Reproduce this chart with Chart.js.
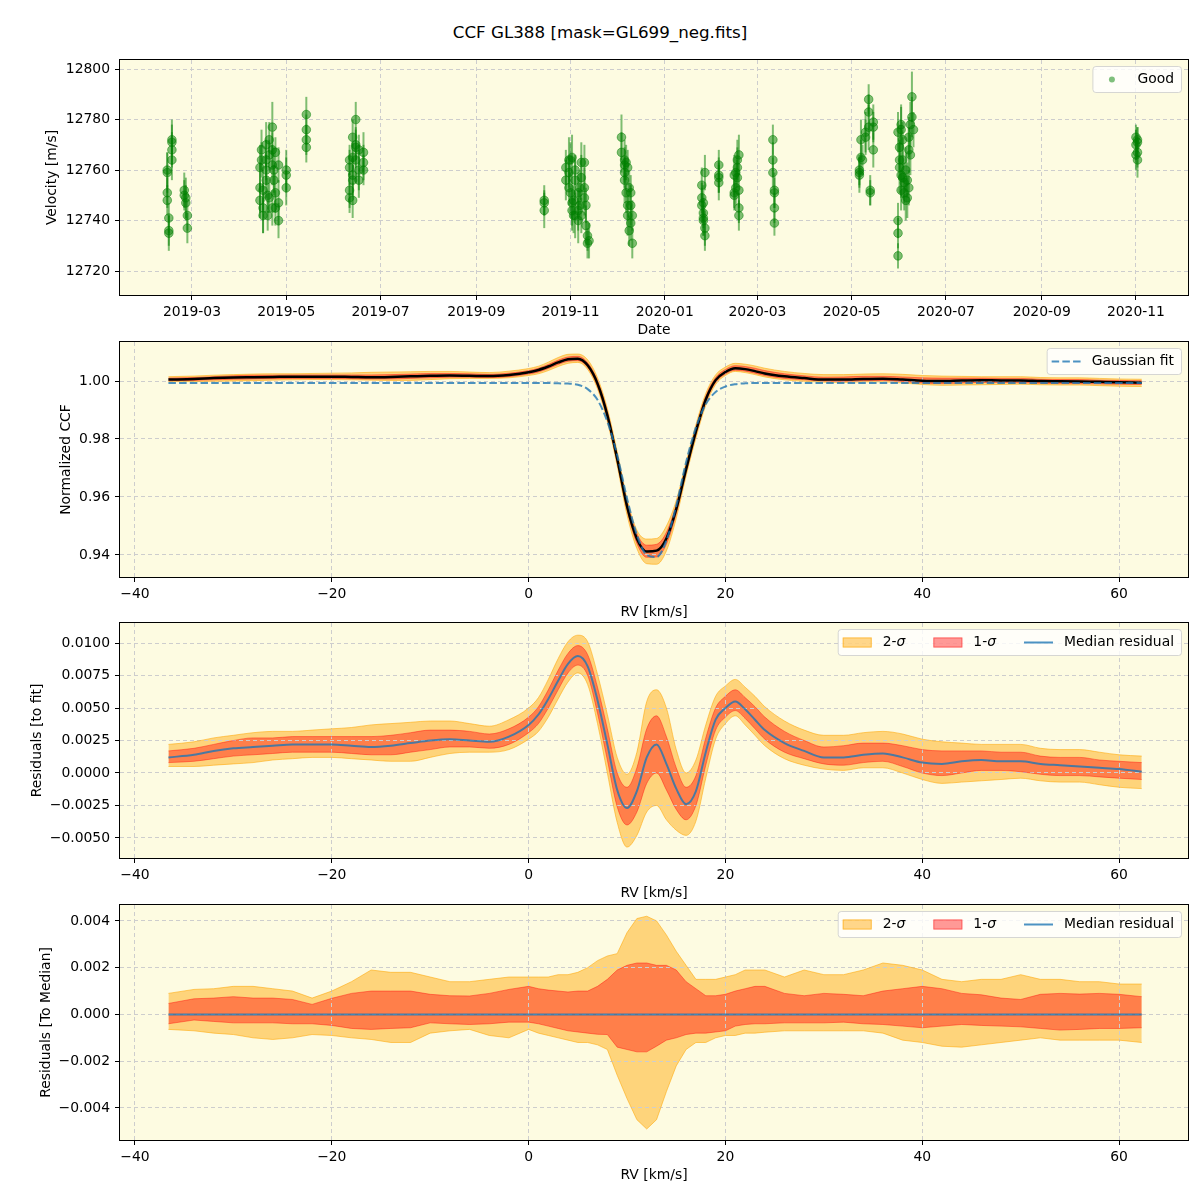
<!DOCTYPE html>
<html>
<head>
<meta charset="utf-8">
<title>CCF GL388</title>
<script src="https://cdn.jsdelivr.net/npm/chart.js@4.4.1/dist/chart.umd.min.js"></script>
<style>
  body { margin: 0; background: #fff; }
  #page { position: relative; width: 1200px; height: 1200px; background: #fff; overflow: hidden; font-family: "DejaVu Sans", sans-serif; }
  #page canvas { position: absolute; left: 0; }
  .plotbg { position: absolute; left: 120px; width: 1068px; height: 235px; background: #fdfbe1; }
  #suptitle { position: absolute; left: 0; width: 1200px; top: 22px; line-height: 20px; text-align: center; font-size: 16.7px; color: #000; }
</style>
</head>
<body>
<div id="page">
  <div id="suptitle">CCF GL388 [mask=GL699_neg.fits]</div>
  <div class="plotbg" style="top:60px"></div>
  <div class="plotbg" style="top:342px"></div>
  <div class="plotbg" style="top:623px"></div>
  <div class="plotbg" style="top:905px"></div>
  <canvas id="c1" width="1200" height="295" style="top:45px"></canvas>
  <canvas id="c2" width="1200" height="295" style="top:327px"></canvas>
  <canvas id="c3" width="1200" height="295" style="top:608px"></canvas>
  <canvas id="c4" width="1200" height="295" style="top:890px"></canvas>
</div>
<script>
// --- Data: radial velocity time series (top panel) ---
const obsNights = [
    '2019-02-13', '2019-02-14', '2019-02-16', '2019-02-24', '2019-02-25', '2019-02-26',
    '2019-04-14', '2019-04-15', '2019-04-16', '2019-04-18', '2019-04-19', '2019-04-20', '2019-04-22', '2019-04-23', '2019-04-24', '2019-04-26', '2019-05-01',
    '2019-05-14',
    '2019-06-11', '2019-06-13', '2019-06-15', '2019-06-17', '2019-06-20',
    '2019-10-15',
    '2019-10-29', '2019-10-31', '2019-11-01', '2019-11-02', '2019-11-03', '2019-11-04', '2019-11-06', '2019-11-07', '2019-11-08', '2019-11-10', '2019-11-11', '2019-11-12', '2019-11-13',
    '2019-12-04', '2019-12-06', '2019-12-07', '2019-12-08', '2019-12-09', '2019-12-10', '2019-12-11',
    '2020-01-25', '2020-01-26', '2020-01-27',
    '2020-02-05',
    '2020-02-15', '2020-02-16', '2020-02-17', '2020-02-18',
    '2020-03-11', '2020-03-12',
    '2020-05-06', '2020-05-07', '2020-05-08', '2020-05-10', '2020-05-12', '2020-05-13', '2020-05-15',
    '2020-05-31', '2020-06-01', '2020-06-02', '2020-06-03', '2020-06-04', '2020-06-05', '2020-06-06', '2020-06-07', '2020-06-08', '2020-06-09', '2020-06-10',
    '2020-11-01', '2020-11-02'
];
const obsVel = [
    [12760, 12751, 12748, 12759], [12741, 12736, 12735], [12764, 12768, 12771, 12772],
    [12752, 12750], [12749, 12747], [12742, 12737],
    [12761, 12753, 12748], [12768, 12764], [12745, 12742, 12752], [12770, 12764, 12760, 12756], [12750, 12742], [12772, 12766, 12749], [12777, 12762, 12768, 12745], [12760, 12756], [12767, 12745, 12751], [12740, 12747, 12762], [12760, 12758, 12753],
    [12782, 12776, 12772, 12769],
    [12764, 12761, 12752, 12749], [12773, 12765, 12758, 12756, 12748], [12780, 12769, 12764, 12770], [12768, 12760, 12756], [12767, 12763, 12760],
    [12748, 12747, 12744],
    [12761, 12756], [12764, 12759, 12753], [12764, 12751], [12747, 12744, 12765], [12748, 12742], [12756, 12760, 12742], [12744, 12751, 12740], [12753, 12746], [12763, 12742, 12757], [12763, 12753, 12749], [12746, 12738], [12734, 12731], [12732],
    [12773, 12767], [12762, 12764, 12759, 12756], [12751, 12763], [12746, 12761, 12742], [12753, 12736], [12746, 12751, 12739], [12742, 12731],
    [12754, 12749, 12746], [12743, 12741, 12740, 12747], [12737, 12734, 12759],
    [12762, 12758, 12755, 12757],
    [12751, 12750, 12758], [12753, 12759], [12764, 12757, 12761], [12766, 12752, 12745, 12742],
    [12772, 12764, 12759], [12752, 12751, 12745, 12739],
    [12760, 12758, 12759], [12765, 12772], [12764], [12775, 12773], [12783, 12788, 12777], [12752, 12751], [12779, 12768, 12777],
    [12726, 12735, 12740, 12775], [12769, 12764, 12761], [12758, 12752, 12776, 12778], [12757, 12764, 12772], [12755, 12751], [12748, 12760], [12756, 12749], [12768, 12773, 12753], [12778, 12766], [12789, 12781], [12776],
    [12773, 12770, 12766], [12772, 12767, 12764, 12771]
];
const obsErr = [
    [7, 6, 6, 8], [6, 6, 7], [8, 7, 9, 6],
    [7, 6], [8, 7], [6, 6],
    [9, 10, 7], [8, 7], [10, 7, 8], [9, 8, 6, 7], [7, 6], [7, 6, 6], [10, 8, 7, 7], [9, 6], [6, 7, 8], [7, 9, 7], [8, 7, 7],
    [7, 6, 6, 6],
    [6, 7, 7, 6], [7, 6, 8, 6, 7], [7, 8, 9, 6], [6, 8, 7], [8, 7, 6],
    [6, 5, 7],
    [7, 8], [9, 6, 7], [7, 8], [9, 8, 9], [6, 7], [8, 6, 9], [8, 8, 9], [7, 6], [8, 7, 9], [7, 8, 7], [7, 8], [6, 6], [7],
    [9, 8], [7, 8, 6, 9], [8, 7], [6, 7, 8], [7, 6], [8, 7, 7], [6, 6],
    [7, 6, 7], [6, 7, 6, 7], [7, 6, 7],
    [6, 7, 7, 6],
    [6, 6, 8], [7, 6], [8, 7, 8], [8, 7, 6, 6],
    [6, 7, 6], [7, 6, 6, 5],
    [6, 7, 6], [7, 8], [6], [8, 7], [7, 6, 9], [6, 5], [7, 7, 6],
    [5, 6, 7, 8], [9, 8, 10], [9, 8, 9, 8], [8, 9, 7], [8, 7], [8, 9], [7, 8], [9, 8, 7], [9, 8], [10, 8], [7],
    [5, 6, 6], [5, 6, 7, 6]
];
const dateTicks = ['2019-03', '2019-05', '2019-07', '2019-09', '2019-11', '2020-01', '2020-03', '2020-05', '2020-07', '2020-09', '2020-11'];
const velTicks = [12720, 12740, 12760, 12780, 12800];

// --- Data: CCF profile and residuals (sampled in RV, km/s) ---
const rvGrid = [
    -36.6, -34, -32, -30, -28, -26, -24, -22, -20, -18, -16, -14, -12, -10, -8, -6, -4, -2,
    0, 1, 2, 3, 4, 5, 6, 7, 8, 9, 10, 11, 12, 13, 14, 15, 16, 17, 18, 19, 20, 21, 22, 23, 24,
    26, 28, 30, 32, 34, 36, 38, 40, 42, 44, 46, 48, 50, 52, 54, 56, 58, 60, 62.3
];
const ccfMedian = [
    1.0005, 1.0007, 1.0010, 1.0012, 1.0013, 1.0014, 1.0015, 1.0015, 1.0015, 1.0014, 1.0013, 1.0014, 1.0016, 1.0018, 1.0019, 1.0018, 1.0017, 1.0021,
    1.0030, 1.0038, 1.0050, 1.0064, 1.0075, 1.0077, 1.0054, 0.9991, 0.9882, 0.9732, 0.9568, 0.9456, 0.9412, 0.9415, 0.9457, 0.9558, 0.9696, 0.9826, 0.9936, 1.0003, 1.0031, 1.0044, 1.0041, 1.0034, 1.0026,
    1.0016, 1.0010, 1.0005, 1.0005, 1.0007, 1.0008, 1.0005, 1.0001, 1.0000, 1.0002, 1.0003, 1.0002, 1.0002, 1.0000, 0.9999, 0.9998, 0.9997, 0.9996, 0.9994
];
const ccfFit = [
    0.9993, 0.9993, 0.9993, 0.9993, 0.9993, 0.9993, 0.9993, 0.9993, 0.9993, 0.9993, 0.9993, 0.9993, 0.9993, 0.9993, 0.9993, 0.9993, 0.9993, 0.9993,
    0.9993, 0.9993, 0.9993, 0.9992, 0.9991, 0.9987, 0.9972, 0.9935, 0.9860, 0.9745, 0.9595, 0.9470, 0.9400, 0.9393, 0.9450, 0.9570, 0.9720, 0.9840, 0.9920, 0.9962, 0.9981, 0.9989, 0.9992, 0.9993, 0.9993,
    0.9993, 0.9993, 0.9993, 0.9993, 0.9993, 0.9993, 0.9993, 0.9993, 0.9993, 0.9993, 0.9993, 0.9993, 0.9993, 0.9993, 0.9993, 0.9993, 0.9993, 0.9993, 0.9993
];
const resMedian = [
    0.0012, 0.0014, 0.0017, 0.0019, 0.0020, 0.0021, 0.0022, 0.0022, 0.0022, 0.0021, 0.0020, 0.0021, 0.0023, 0.0025, 0.0026, 0.0025, 0.0024, 0.0028,
    0.0037, 0.0045, 0.0057, 0.0071, 0.0084, 0.0090, 0.0082, 0.0056, 0.0022, -0.0013, -0.0027, -0.0014, 0.0012, 0.0022, 0.0007, -0.0012, -0.0024, -0.0014, 0.0016, 0.0041, 0.0050, 0.0055, 0.0049, 0.0041, 0.0033,
    0.0023, 0.0017, 0.0012, 0.0012, 0.0014, 0.0015, 0.0012, 0.0008, 0.0007, 0.0009, 0.0010, 0.0009, 0.0009, 0.0007, 0.0006, 0.0005, 0.0004, 0.0003, 0.0001
];
const res1Lo = [
    0.0008, 0.0009, 0.0011, 0.0013, 0.0014, 0.0015, 0.0016, 0.0016, 0.0016, 0.0015, 0.0014, 0.0014, 0.0016, 0.0018, 0.0020, 0.0020, 0.0019, 0.0022,
    0.0031, 0.0038, 0.0050, 0.0064, 0.0077, 0.0083, 0.0075, 0.0046, 0.0010, -0.0026, -0.0040, -0.0030, -0.0008, 0.0000, -0.0013, -0.0028, -0.0036, -0.0025, 0.0006, 0.0033, 0.0043, 0.0048, 0.0042, 0.0034, 0.0026,
    0.0016, 0.0011, 0.0007, 0.0006, 0.0008, 0.0009, 0.0005, 0.0000, -0.0002, 0.0000, 0.0002, 0.0002, 0.0001, -0.0001, -0.0002, -0.0002, -0.0003, -0.0004, -0.0005
];
const res1Hi = [
    0.0017, 0.0019, 0.0022, 0.0025, 0.0027, 0.0027, 0.0028, 0.0028, 0.0028, 0.0028, 0.0028, 0.0029, 0.0031, 0.0033, 0.0033, 0.0032, 0.0030, 0.0034,
    0.0043, 0.0051, 0.0064, 0.0079, 0.0092, 0.0098, 0.0091, 0.0066, 0.0034, 0.0000, -0.0011, 0.0004, 0.0034, 0.0044, 0.0028, 0.0004, -0.0011, -0.0002, 0.0027, 0.0050, 0.0059, 0.0064, 0.0058, 0.0051, 0.0043,
    0.0032, 0.0025, 0.0020, 0.0021, 0.0023, 0.0023, 0.0021, 0.0018, 0.0017, 0.0017, 0.0017, 0.0016, 0.0016, 0.0013, 0.0012, 0.0012, 0.0010, 0.0009, 0.0008
];
const res2Lo = [
    0.0005, 0.0005, 0.0006, 0.0007, 0.0008, 0.0010, 0.0011, 0.0012, 0.0012, 0.0011, 0.0010, 0.0009, 0.0009, 0.0012, 0.0015, 0.0016, 0.0016, 0.0018,
    0.0026, 0.0032, 0.0043, 0.0057, 0.0070, 0.0077, 0.0068, 0.0038, 0.0000, -0.0038, -0.0057, -0.0048, -0.0030, -0.0025, -0.0036, -0.0044, -0.0048, -0.0037, -0.0004, 0.0026, 0.0038, 0.0044, 0.0037, 0.0029, 0.0021,
    0.0011, 0.0006, 0.0003, 0.0002, 0.0004, 0.0004, 0.0000, -0.0005, -0.0008, -0.0007, -0.0006, -0.0005, -0.0004, -0.0006, -0.0007, -0.0007, -0.0009, -0.0011, -0.0012
];
const res2Hi = [
    0.0022, 0.0024, 0.0027, 0.0029, 0.0031, 0.0032, 0.0032, 0.0033, 0.0034, 0.0035, 0.0037, 0.0038, 0.0039, 0.0040, 0.0040, 0.0038, 0.0036, 0.0041,
    0.0050, 0.0058, 0.0072, 0.0088, 0.0101, 0.0106, 0.0101, 0.0076, 0.0045, 0.0012, -0.0001, 0.0016, 0.0055, 0.0064, 0.0050, 0.0018, 0.0000, 0.0010, 0.0037, 0.0059, 0.0067, 0.0072, 0.0066, 0.0059, 0.0051,
    0.0040, 0.0033, 0.0029, 0.0029, 0.0031, 0.0032, 0.0030, 0.0026, 0.0024, 0.0023, 0.0022, 0.0022, 0.0022, 0.0019, 0.0018, 0.0018, 0.0016, 0.0014, 0.0013
];
// residuals relative to the median profile
const med1Lo = [
    -0.00040, -0.00024, -0.00030, -0.00036, -0.00036, -0.00036, -0.00040, -0.00040, -0.00047, -0.00060, -0.00064, -0.00060, -0.00057, -0.00036, -0.00040, -0.00043, -0.00040, -0.00033,
    -0.00033, -0.00040, -0.00050, -0.00060, -0.00070, -0.00075, -0.00080, -0.00085, -0.00086, -0.00140, -0.00150, -0.00160, -0.00160, -0.00136, -0.00110, -0.00100, -0.00086, -0.00080, -0.00080, -0.00075, -0.00070, -0.00050, -0.00043, -0.00040, -0.00040,
    -0.00036, -0.00036, -0.00036, -0.00033, -0.00040, -0.00043, -0.00050, -0.00057, -0.00050, -0.00043, -0.00047, -0.00050, -0.00053, -0.00060, -0.00067, -0.00064, -0.00060, -0.00060, -0.00057
];
const med1Hi = [
    0.00047, 0.00067, 0.00070, 0.00076, 0.00070, 0.00070, 0.00064, 0.00043, 0.00069, 0.00090, 0.00100, 0.00100, 0.00100, 0.00086, 0.00080, 0.00079, 0.00090, 0.00107,
    0.00120, 0.00110, 0.00104, 0.00100, 0.00096, 0.00100, 0.00100, 0.00120, 0.00150, 0.00190, 0.00210, 0.00220, 0.00220, 0.00210, 0.00210, 0.00190, 0.00140, 0.00110, 0.00080, 0.00080, 0.00086, 0.00100, 0.00110, 0.00120, 0.00120,
    0.00090, 0.00080, 0.00090, 0.00086, 0.00080, 0.00100, 0.00110, 0.00120, 0.00110, 0.00090, 0.00084, 0.00070, 0.00064, 0.00086, 0.00090, 0.00087, 0.00090, 0.00086, 0.00076
];
const med2Lo = [
    -0.00064, -0.00070, -0.00080, -0.00086, -0.00100, -0.00107, -0.00100, -0.00086, -0.00090, -0.00100, -0.00107, -0.00120, -0.00120, -0.00080, -0.00070, -0.00064, -0.00090, -0.00100,
    -0.00064, -0.00080, -0.00090, -0.00100, -0.00110, -0.00120, -0.00120, -0.00130, -0.00150, -0.00260, -0.00360, -0.00450, -0.00490, -0.00450, -0.00330, -0.00220, -0.00150, -0.00120, -0.00120, -0.00100, -0.00090, -0.00090, -0.00080, -0.00080, -0.00076,
    -0.00070, -0.00070, -0.00070, -0.00070, -0.00070, -0.00080, -0.00110, -0.00120, -0.00136, -0.00140, -0.00130, -0.00120, -0.00110, -0.00100, -0.00110, -0.00110, -0.00110, -0.00110, -0.00120
];
const med2Hi = [
    0.00090, 0.00107, 0.00110, 0.00120, 0.00120, 0.00110, 0.00100, 0.00070, 0.00100, 0.00140, 0.00190, 0.00180, 0.00180, 0.00160, 0.00140, 0.00140, 0.00150, 0.00160,
    0.00160, 0.00160, 0.00160, 0.00170, 0.00170, 0.00180, 0.00200, 0.00230, 0.00250, 0.00260, 0.00350, 0.00410, 0.00420, 0.00400, 0.00340, 0.00270, 0.00210, 0.00150, 0.00150, 0.00150, 0.00160, 0.00170, 0.00190, 0.00190, 0.00190,
    0.00160, 0.00190, 0.00170, 0.00170, 0.00190, 0.00220, 0.00210, 0.00190, 0.00150, 0.00140, 0.00150, 0.00150, 0.00170, 0.00150, 0.00150, 0.00140, 0.00140, 0.00130, 0.00130
];
const medLine = [[-36.6, 0], [62.3, 0]];
const rvTicks = [-40, -20, 0, 20, 40, 60];
const ccfTicks = [0.94, 0.96, 0.98, 1.00];
const resFitTicks = [-0.005, -0.0025, 0, 0.0025, 0.005, 0.0075, 0.01];
const resMedTicks = [-0.004, -0.002, 0, 0.002, 0.004];

// --- Style ---
const FONT = '"DejaVu Sans", sans-serif';
const FS = 13.9;
const GRID = '#cdcdcd';
const GREEN_A = 'rgba(0,128,0,0.5)';
const FILL2 = 'rgba(255,165,0,0.45)';
const EDGE2 = 'rgba(255,165,0,0.55)';
const FILL1 = 'rgba(255,0,0,0.4)';
const EDGE1 = 'rgba(255,0,0,0.4)';
const BLUE = 'rgba(31,119,180,0.8)';

const DAY0 = Date.UTC(2019, 0, 1);
const dayOf = s => (Date.parse(s + 'T00:00:00Z') - DAY0) / 864e5;
const fmt = d => v => (v < 0 ? '\u2212' : '') + Math.abs(v).toFixed(d);

// --- Plugins ---
const frame = {
    id: 'frame',
    afterDatasetsDraw(chart) {
        const { ctx, chartArea: a } = chart;
        ctx.save();
        ctx.strokeStyle = '#000';
        ctx.lineWidth = 1;
        ctx.strokeRect(a.left - 0.5, a.top - 0.5, a.width + 1, a.height + 1);
        ctx.restore();
    }
};

const errorBars = {
    id: 'errorBars',
    beforeDatasetsDraw(chart) {
        const { ctx, chartArea: a, scales: { x, y } } = chart;
        ctx.save();
        ctx.beginPath();
        ctx.rect(a.left, a.top, a.width, a.height);
        ctx.clip();
        ctx.strokeStyle = GREEN_A;
        ctx.lineWidth = 2;
        chart.data.datasets[0].data.forEach(p => {
            const px = x.getPixelForValue(p.x);
            ctx.beginPath();
            ctx.moveTo(px, y.getPixelForValue(p.y - p.e));
            ctx.lineTo(px, y.getPixelForValue(p.y + p.e));
            ctx.stroke();
        });
        ctx.restore();
    }
};

function fontOf(style) {
    return (style ? style + ' ' : '') + FS + 'px ' + FONT;
}

function drawHandle(ctx, it, x, cy) {
    ctx.save();
    if (it.kind === 'patch') {
        ctx.fillStyle = it.fill;
        ctx.fillRect(x, cy - 5, 29, 10);
        ctx.strokeStyle = it.edge;
        ctx.lineWidth = 1;
        ctx.strokeRect(x + 0.5, cy - 4.5, 28, 9);
    } else if (it.kind === 'dot') {
        ctx.fillStyle = it.color;
        ctx.beginPath();
        ctx.arc(x + 14.5, cy, 3, 0, Math.PI * 2);
        ctx.fill();
    } else {
        ctx.strokeStyle = it.color;
        ctx.lineWidth = 2;
        if (it.kind === 'dash') ctx.setLineDash([7.5, 3.2]);
        ctx.beginPath();
        ctx.moveTo(x, cy);
        ctx.lineTo(x + 29, cy);
        ctx.stroke();
    }
    ctx.restore();
}

const mplLegend = {
    id: 'mplLegend',
    afterDraw(chart, args, opts) {
        const items = opts.items || [];
        if (!items.length) return;
        const { ctx, chartArea: a } = chart;
        ctx.save();
        const measure = parts => parts.reduce((w, [t, st]) => {
            ctx.font = fontOf(st);
            return w + ctx.measureText(t).width;
        }, 0);
        const widths = items.map(it => measure(it.text));
        const w = 5 + 7 + items.reduce((s, it, i) => s + 29 + 11 + widths[i], 0) + 28 * (items.length - 1);
        const h = 26;
        const bx = a.right - 7 - w;
        const by = a.top + 6;
        ctx.beginPath();
        if (ctx.roundRect) ctx.roundRect(bx + 0.5, by + 0.5, w, h, 3);
        else ctx.rect(bx + 0.5, by + 0.5, w, h);
        ctx.fillStyle = 'rgba(255,255,255,0.8)';
        ctx.fill();
        ctx.strokeStyle = 'rgba(204,204,204,0.8)';
        ctx.lineWidth = 1;
        ctx.stroke();
        let x = bx + 5;
        const cy = by + h / 2 + 0.5;
        items.forEach(it => {
            drawHandle(ctx, it, x, cy);
            let tx = x + 29 + 11;
            ctx.fillStyle = '#000';
            ctx.textBaseline = 'middle';
            ctx.textAlign = 'left';
            it.text.forEach(([t, st]) => {
                ctx.font = fontOf(st);
                ctx.fillText(t, tx, cy);
                tx += ctx.measureText(t).width;
            });
            x = tx + 28;
        });
        ctx.restore();
    }
};

// --- Axes ---
function xAxis(min, max, ticks, cb, title) {
    return {
        type: 'linear', min, max,
        afterBuildTicks: s => { s.ticks = ticks.map(v => ({ value: v })); },
        afterFit: s => { s.height = 45; },
        ticks: { callback: cb, color: '#000', font: { family: FONT, size: FS }, padding: 4, maxRotation: 0, minRotation: 0, autoSkip: false },
        grid: { color: GRID, lineWidth: 1, borderDash: [4, 3], tickLength: 5, tickColor: '#000', tickWidth: 1, tickBorderDash: [] },
        border: { display: false, dash: [4, 3] },
        title: { display: true, text: title, color: '#000', font: { family: FONT, size: FS }, padding: { top: 0, bottom: 1.7 } }
    };
}

function yAxis(min, max, ticks, cb, title, titleX) {
    return {
        type: 'linear', min, max,
        afterBuildTicks: s => { s.ticks = ticks.map(v => ({ value: v })); },
        afterFit: s => { s.width = 120; },
        ticks: { callback: cb, color: '#000', font: { family: FONT, size: FS }, padding: 5, autoSkip: false },
        grid: { color: GRID, lineWidth: 1, borderDash: [4, 3], tickLength: 5, tickColor: '#000', tickWidth: 1, tickBorderDash: [] },
        border: { display: false, dash: [4, 3] },
        title: { display: true, text: title, color: '#000', font: { family: FONT, size: FS }, padding: { top: titleX - FS * 0.6, bottom: 0 } }
    };
}

function makeChart(id, type, datasets, x, y, legendItems, extra) {
    return new Chart(document.getElementById(id), {
        type,
        data: { datasets },
        options: {
            responsive: false,
            animation: false,
            events: [],
            layout: { padding: { top: 15, right: 12, left: 0, bottom: 0 } },
            scales: { x, y },
            plugins: {
                legend: { display: false },
                tooltip: { enabled: false },
                filler: { drawTime: 'beforeDraw' },
                mplLegend: { items: legendItems }
            }
        },
        plugins: [frame, mplLegend].concat(extra || [])
    });
}

// --- Dataset helpers ---
const series = ys => rvGrid.map((x, i) => ({ x, y: ys[i] }));
const rebased = (base, band, ref) => rvGrid.map((x, i) => ({ x, y: base[i] + band[i] - ref[i] }));

function bandLine(data, fillColor, edgeColor, order, smooth) {
    return {
        data,
        fill: fillColor ? '+1' : false,
        backgroundColor: fillColor || 'transparent',
        borderColor: edgeColor,
        borderWidth: 1,
        pointRadius: 0,
        order,
        cubicInterpolationMode: smooth ? 'monotone' : 'default',
        tension: 0
    };
}

function curve(data, color, width, order, dash) {
    return {
        data,
        fill: false,
        borderColor: color,
        borderWidth: width,
        borderDash: dash || [],
        pointRadius: 0,
        order,
        cubicInterpolationMode: 'monotone'
    };
}

const sigmaLegend = [
    { kind: 'patch', fill: FILL2, edge: EDGE2, text: [['2-', ''], ['\u03c3', 'italic']] },
    { kind: 'patch', fill: FILL1, edge: EDGE1, text: [['1-', ''], ['\u03c3', 'italic']] },
    { kind: 'line', color: BLUE, text: [['Median residual', '']] }
];

// --- Panel 1: velocity vs date ---
const obsPoints = [];
obsNights.forEach((d, i) => {
    obsVel[i].forEach((v, j) => {
        obsPoints.push({ x: dayOf(d), y: v, e: (obsErr[i] && obsErr[i][j]) || 7 });
    });
});
const dateTickDays = dateTicks.map(t => dayOf(t + '-01'));

makeChart('c1', 'scatter', [{
        data: obsPoints,
        pointRadius: 4.3,
        pointBorderWidth: 1,
        pointBackgroundColor: GREEN_A,
        pointBorderColor: GREEN_A,
        showLine: false
    }],
    xAxis(12.4, 703.7, dateTickDays, (v, i) => dateTicks[i], 'Date'),
    yAxis(12710.5, 12803.6, velTicks, fmt(0), 'Velocity [m/s]', 52),
    [{ kind: 'dot', color: GREEN_A, text: [['Good', '']] }],
    [errorBars]);

// --- Panel 2: normalized CCF ---
makeChart('c2', 'line', [
        bandLine(rebased(ccfMedian, res2Hi, resMedian), FILL2, EDGE2, 3, true),
        bandLine(rebased(ccfMedian, res2Lo, resMedian), null, EDGE2, 3, true),
        bandLine(rebased(ccfMedian, res1Hi, resMedian), FILL1, EDGE1, 2, true),
        bandLine(rebased(ccfMedian, res1Lo, resMedian), null, EDGE1, 2, true),
        curve(series(ccfMedian), '#000', 2.5, 1),
        curve(series(ccfFit), BLUE, 2, 0, [7.5, 3.2])
    ],
    xAxis(-41.52, 67.0, rvTicks, fmt(0), 'RV [km/s]'),
    yAxis(0.93241, 1.01345, ccfTicks, fmt(2), 'Normalized CCF', 66),
    [{ kind: 'dash', color: BLUE, text: [['Gaussian fit', '']] }]);

// --- Panel 3: residuals to the fit ---
makeChart('c3', 'line', [
        bandLine(series(res2Hi), FILL2, EDGE2, 2, true),
        bandLine(series(res2Lo), null, EDGE2, 2, true),
        bandLine(series(res1Hi), FILL1, EDGE1, 1, true),
        bandLine(series(res1Lo), null, EDGE1, 1, true),
        curve(series(resMedian), BLUE, 2, 0)
    ],
    xAxis(-41.52, 67.0, rvTicks, fmt(0), 'RV [km/s]'),
    yAxis(-0.00654, 0.01154, resFitTicks, fmt(4), 'Residuals [to fit]', 37),
    sigmaLegend);

// --- Panel 4: residuals to the median ---
makeChart('c4', 'line', [
        bandLine(series(med2Hi), FILL2, EDGE2, 2, false),
        bandLine(series(med2Lo), null, EDGE2, 2, false),
        bandLine(series(med1Hi), FILL1, EDGE1, 1, false),
        bandLine(series(med1Lo), null, EDGE1, 1, false),
        curve(medLine.map(([x, y]) => ({ x, y })), BLUE, 2, 0)
    ],
    xAxis(-41.52, 67.0, rvTicks, fmt(0), 'RV [km/s]'),
    yAxis(-0.00537, 0.00468, resMedTicks, fmt(3), 'Residuals [To Median]', 46),
    sigmaLegend);
</script>
</body>
</html>
